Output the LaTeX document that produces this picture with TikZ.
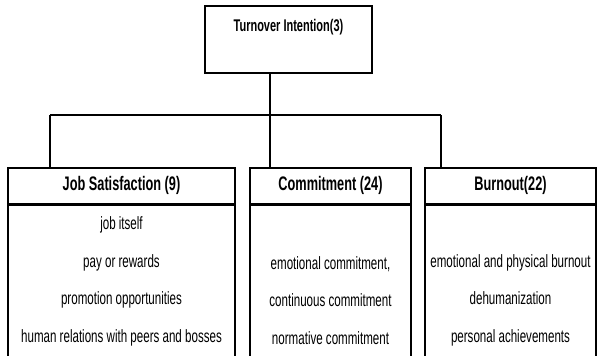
\documentclass[tikz,border=0pt]{standalone}
\usepackage{fontspec}
\setmainfont{Liberation Sans}[FakeStretch=0.65]
\usetikzlibrary{positioning}

\begin{document}
\begin{tikzpicture}[x=1pt, y=-1pt,
		box/.style={draw, line width=1.6pt, inner sep=0pt},
		head/.style={box, anchor=north, minimum height=36pt, font=\bfseries\fontsize{19.6}{22}\selectfont},
		items/.style={box, align=center, minimum height=152pt, font=\fontsize{17.8}{37.5}\selectfont},
		link/.style={line width=1.6pt}]
		\useasboundingbox (0,0) rectangle (597,356);

		% 顶层
		\node[box, anchor=north, minimum width=167pt, text height=25.5pt, text depth=41.5pt,
			font=\bfseries\fontsize{16.9}{19}\selectfont] (top) at (288.5,5) {Turnover Intention(3)};

		% 三个因素
		\node[head, minimum width=227pt] (js) at (121.5,167) {Job Satisfaction (9)};
		\node[items, minimum width=227pt, below=0pt of js] (jsi)
			{job itself\\pay or rewards\\promotion opportunities\\human relations with peers and bosses};

		\node[head, minimum width=161pt] (cm) at (330.5,167) {Commitment (24)};
		\node[items, minimum width=161pt, below=0pt of cm] (cmi)
			{\phantom{b}\\emotional commitment,\\continuous commitment\\normative commitment};

		\node[head, minimum width=171pt] (bo) at (510.5,167) {Burnout(22)};
		\node[items, minimum width=171pt, below=0pt of bo] (boi)
			{\phantom{b}\\emotional and physical burnout\\dehumanization\\personal achievements};

		% 连线
		\coordinate (bus) at (270,115);
		\coordinate (busL) at (50,115);
		\coordinate (busR) at (441,115);
		\draw[link] (bus |- top.south) -- (bus);
		\draw[link] (busL) -- (busR);
		\draw[link] (busL) -- (busL |- js.north);
		\draw[link] (bus) -- (bus |- cm.north);
		\draw[link] (busR) -- (busR |- bo.north);
	\end{tikzpicture}
\end{document}
